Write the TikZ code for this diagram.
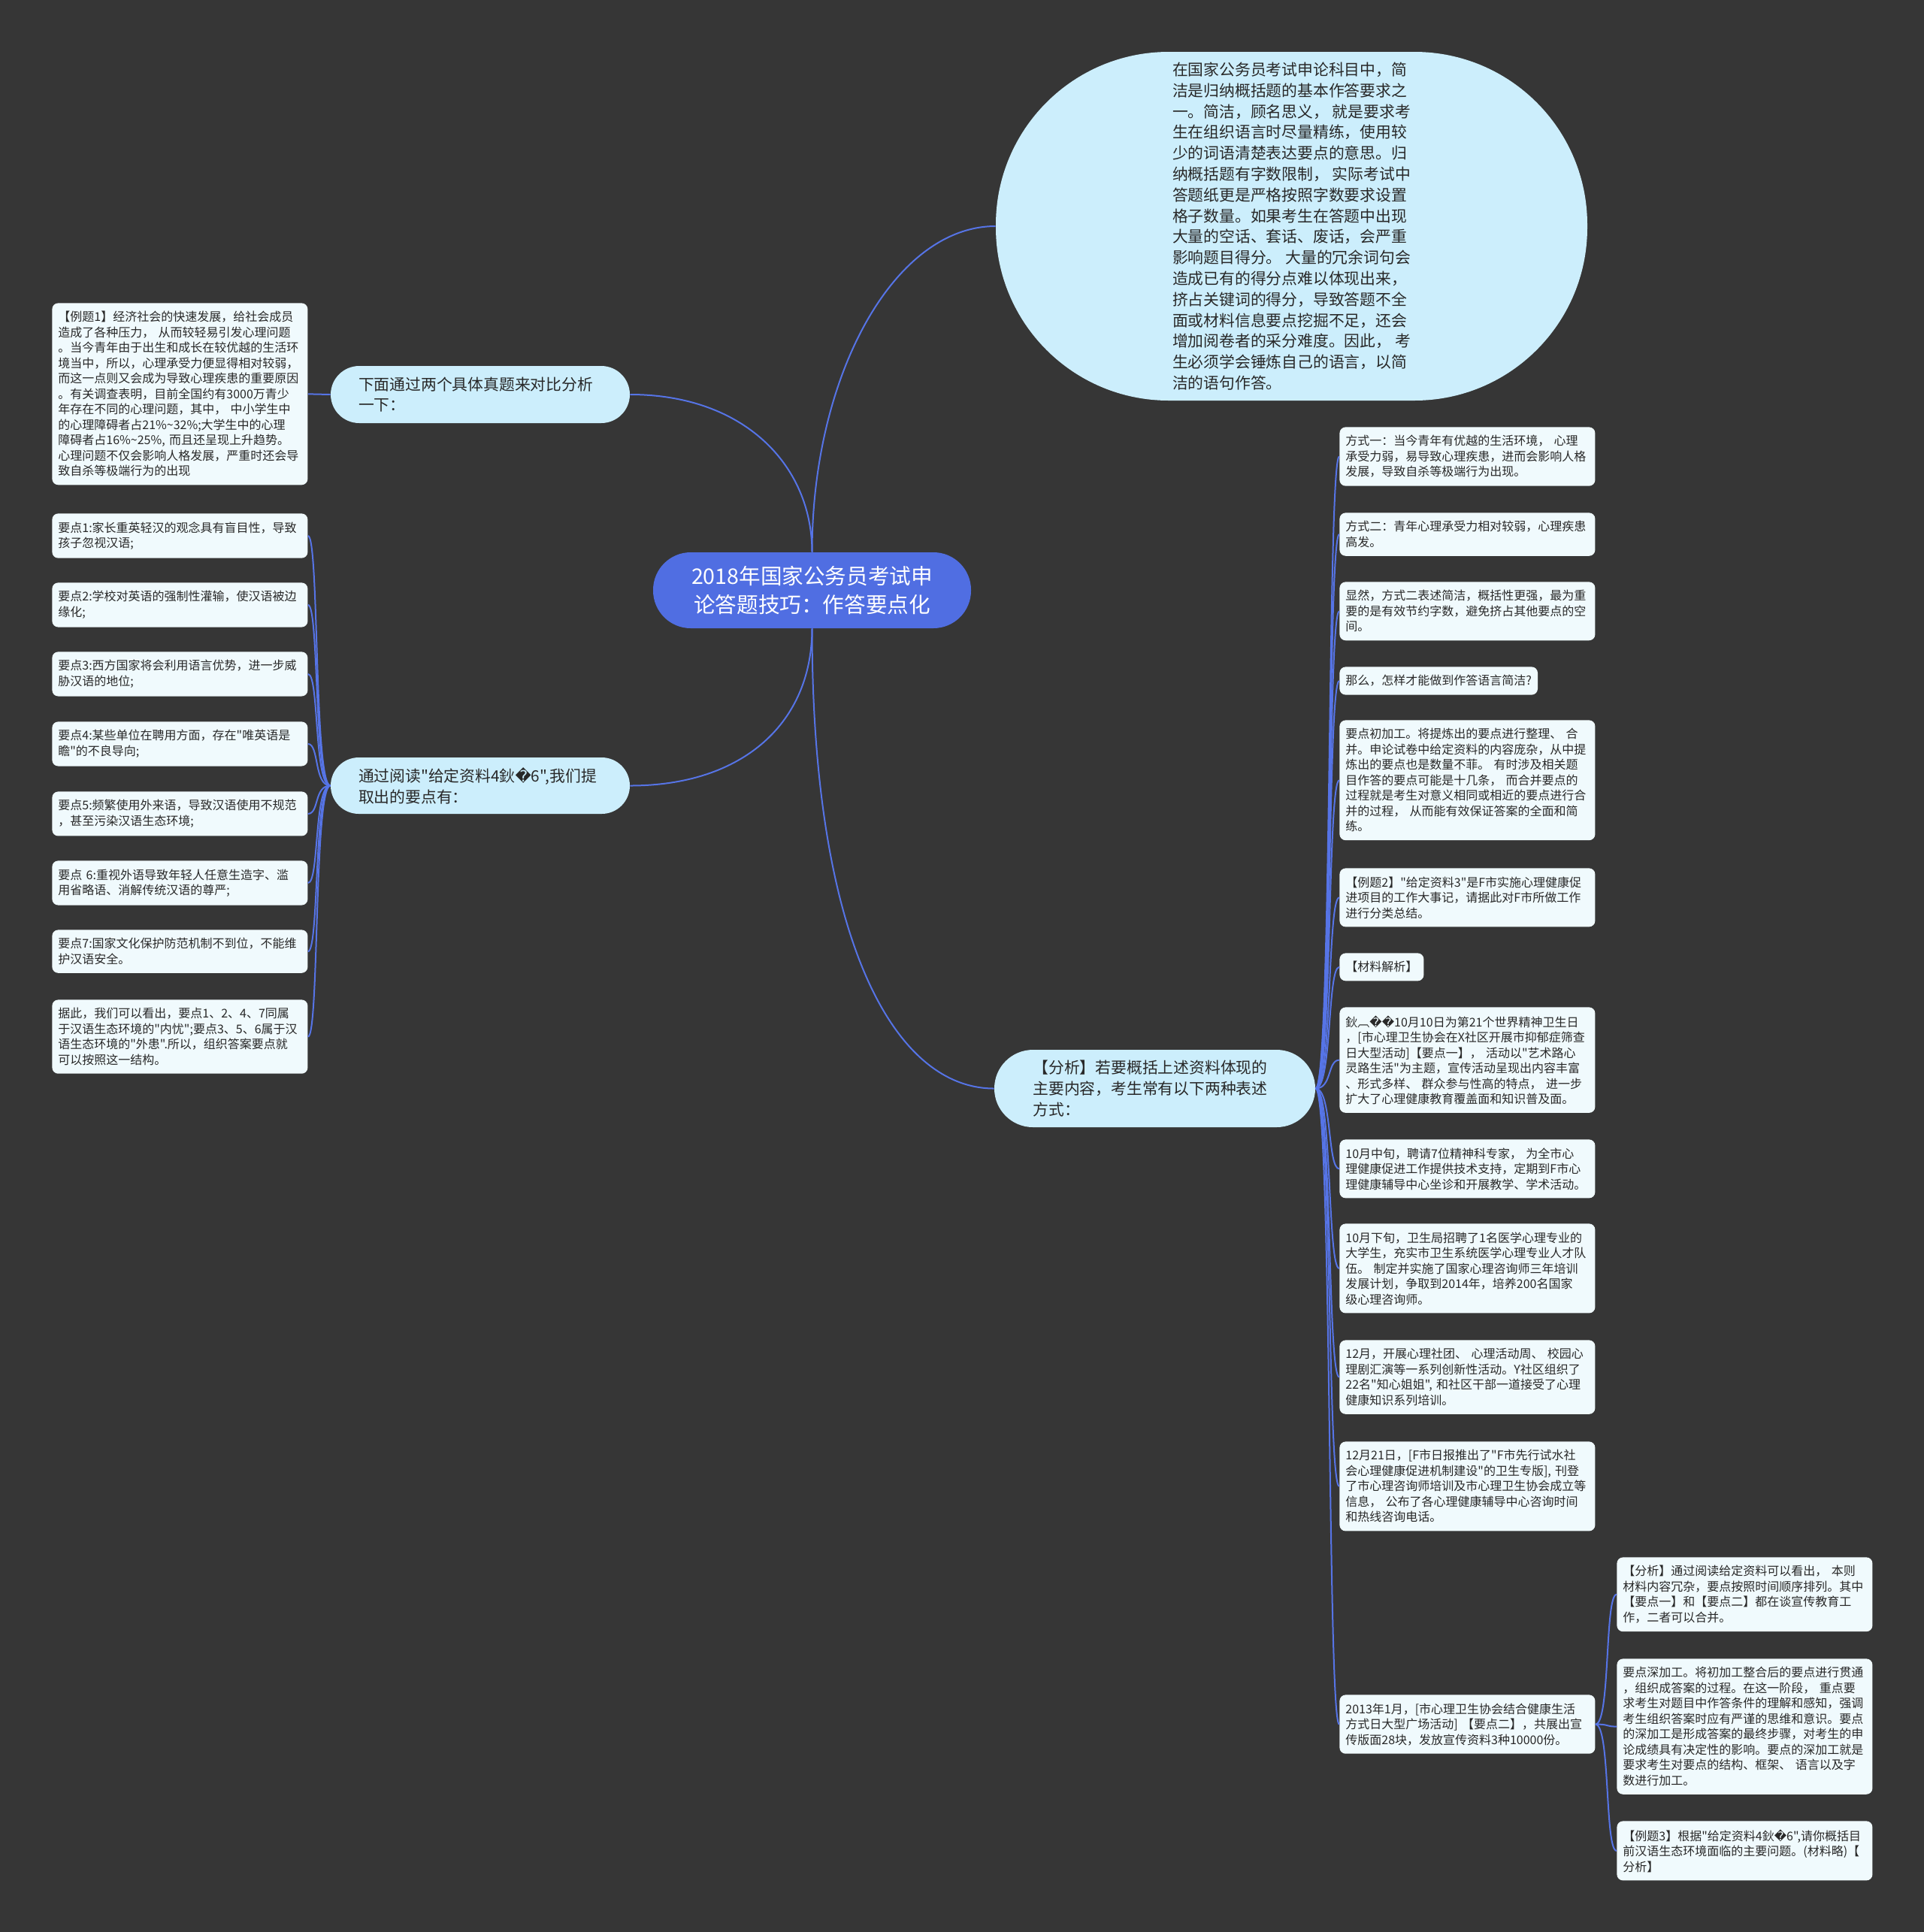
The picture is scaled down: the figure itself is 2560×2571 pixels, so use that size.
\documentclass[tikz,border=0pt]{standalone}
\usepackage{fontspec}
\setmainfont{Noto Sans CJK SC}[Ligatures=TeXOff]
\newfontfamily\symfont{DejaVu Sans}
\usepackage{tikz}

\definecolor{bgdark}{RGB}{54,54,54}
\definecolor{rootblue}{RGB}{80,110,226}
\definecolor{linkblue}{RGB}{86,116,230}
\definecolor{branchfill}{RGB}{204,238,252}
\definecolor{leaffill}{RGB}{240,250,253}
\definecolor{inkdark}{RGB}{40,40,40}
\newcommand{\badchar}{{\symfont\char"FFFD}}

\tikzset{
  topic/.style={rectangle, rounded corners=25pt, fill=rootblue, text=white,
    font=\fontsize{14.3}{18.9}\selectfont, align=center,
    minimum width=211.5pt, minimum height=50.5pt},
  branch/.style={rectangle, fill=branchfill, text=inkdark,
    font=\fontsize{10.4}{13.9}\selectfont, align=left, text width=162pt, inner ysep=2pt},
  bubble/.style={rectangle, rounded corners=115pt, fill=branchfill, text=inkdark,
    font=\fontsize{10.4}{13.9}\selectfont, align=left,
    minimum width=393.5pt, minimum height=232pt},
  leafbase/.style={rectangle, rounded corners=4pt, fill=leaffill, text=inkdark,
    font=\fontsize{8}{10.25}\selectfont, align=left,
    inner xsep=4pt, inner ysep=5.5pt, anchor=north west},
  leaf/.style={leafbase, text width=162pt},
  link/.style={draw=linkblue, line width=1pt}
}

\begin{document}
\begin{tikzpicture}[x=0.5pt,y=-0.5pt]
  % Canvas
  \fill[bgdark] (0,0) rectangle (2560,2571);
  \useasboundingbox (0,0) rectangle (2560,2571);

  % Main topic
  \node[topic] (root) at (1080.5,785.5) {2018年国家公务员考试申\\论答题技巧：作答要点化};

  % First level
  \node[bubble] (intro) at (1718.5,301) {在国家公务员考试申论科目中，简\\洁是归纳概括题的基本作答要求之\\一。简洁，顾名思义， 就是要求考\\生在组织语言时尽量精练，使用较\\少的词语清楚表达要点的意思。归\\纳概括题有字数限制， 实际考试中\\答题纸更是严格按照字数要求设置\\格子数量。如果考生在答题中出现\\大量的空话、套话、废话，会严重\\影响题目得分。 大量的冗余词句会\\造成已有的得分点难以体现出来，\\挤占关键词的得分，导致答题不全\\面或材料信息要点挖掘不足，还会\\增加阅卷者的采分难度。因此， 考\\生必须学会锤炼自己的语言，以简\\洁的语句作答。};
  \node[branch, inner xsep=18.5pt, minimum height=38pt, rounded corners=19pt] (compare) at (639,525) {下面通过两个具体真题来对比分析\\一下：};
  \node[branch, inner xsep=18.5pt, minimum height=37.5pt, rounded corners=18.7pt] (points) at (639,1045.5) {通过阅读"给定资料4鈥\badchar6",我们提\\取出的要点有：};
  \node[branch, inner xsep=25.75pt, minimum height=51.5pt, rounded corners=25.7pt] (analysis) at (1536.5,1448.5) {【分析】若要概括上述资料体现的\\主要内容，考生常有以下两种表述\\方式：};

  % Left side
  \node[leaf] (ex1) at (69,403) {【例题1】经济社会的快速发展，给社会成员\\造成了各种压力， 从而较轻易引发心理问题\\。当今青年由于出生和成长在较优越的生活环\\境当中，所以，心理承受力便显得相对较弱，\\而这一点则又会成为导致心理疾患的重要原因\\。有关调查表明，目前全国约有3000万青少\\年存在不同的心理问题，其中， 中小学生中\\的心理障碍者占21\%\textasciitilde32\%;大学生中的心理\\障碍者占16\%\textasciitilde25\%, 而且还呈现上升趋势。\\心理问题不仅会影响人格发展，严重时还会导\\致自杀等极端行为的出现};
  \node[leaf] (pt1) at (69,683) {要点1:家长重英轻汉的观念具有盲目性，导致\\孩子忽视汉语;};
  \node[leaf] (pt2) at (69,775) {要点2:学校对英语的强制性灌输，使汉语被边\\缘化;};
  \node[leaf] (pt3) at (69,867) {要点3:西方国家将会利用语言优势，进一步威\\胁汉语的地位;};
  \node[leaf] (pt4) at (69,960) {要点4:某些单位在聘用方面，存在"唯英语是\\瞻"的不良导向;};
  \node[leaf] (pt5) at (69,1053) {要点5:频繁使用外来语，导致汉语使用不规范\\，甚至污染汉语生态环境;};
  \node[leaf] (pt6) at (69,1145) {要点 6:重视外语导致年轻人任意生造字、滥\\用省略语、消解传统汉语的尊严;};
  \node[leaf] (pt7) at (69,1237) {要点7:国家文化保护防范机制不到位，不能维\\护汉语安全。};
  \node[leaf] (ptsum) at (69,1330) {据此，我们可以看出，要点1、2、4、7同属\\于汉语生态环境的"内忧";要点3、5、6属于汉\\语生态环境的"外患".所以，组织答案要点就\\可以按照这一结构。};

  % Right side
  \node[leaf] (way1) at (1782,568) {方式一：当今青年有优越的生活环境， 心理\\承受力弱，易导致心理疾患，进而会影响人格\\发展，导致自杀等极端行为出现。};
  \node[leaf] (way2) at (1782,682) {方式二：青年心理承受力相对较弱，心理疾患\\高发。};
  \node[leaf] (plain) at (1782,774) {显然，方式二表述简洁，概括性更强，最为重\\要的是有效节约字数，避免挤占其他要点的空\\间。};
  \node[leafbase] (how) at (1782,887) {那么，怎样才能做到作答语言简洁?};
  \node[leaf] (merge) at (1782,958) {要点初加工。将提炼出的要点进行整理、 合\\并。申论试卷中给定资料的内容庞杂，从中提\\炼出的要点也是数量不菲。 有时涉及相关题\\目作答的要点可能是十几条， 而合并要点的\\过程就是考生对意义相同或相近的要点进行合\\并的过程， 从而能有效保证答案的全面和简\\练。};
  \node[leaf] (ex2) at (1782,1155) {【例题2】"给定资料3"是F市实施心理健康促\\进项目的工作大事记，请据此对F市所做工作\\进行分类总结。};
  \node[leafbase] (mat) at (1782,1268) {【材料解析】};
  \node[leaf] (oct10) at (1782,1340) {鈥︹\badchar\badchar10月10日为第21个世界精神卫生日\\，[市心理卫生协会在X社区开展市抑郁症筛查\\日大型活动]【要点一】， 活动以"艺术路心\\灵路生活"为主题，宣传活动呈现出内容丰富\\、形式多样、 群众参与性高的特点， 进一步\\扩大了心理健康教育覆盖面和知识普及面。};
  \node[leaf] (octmid) at (1782,1516) {10月中旬，聘请7位精神科专家， 为全市心\\理健康促进工作提供技术支持，定期到F市心\\理健康辅导中心坐诊和开展教学、学术活动。};
  \node[leaf] (octlate) at (1782,1628) {10月下旬，卫生局招聘了1名医学心理专业的\\大学生，充实市卫生系统医学心理专业人才队\\伍。 制定并实施了国家心理咨询师三年培训\\发展计划，争取到2014年，培养200名国家\\级心理咨询师。};
  \node[leaf] (dec) at (1782,1783) {12月，开展心理社团、 心理活动周、 校园心\\理剧汇演等一系列创新性活动。Y社区组织了\\22名"知心姐姐", 和社区干部一道接受了心理\\健康知识系列培训。};
  \node[leaf] (dec21) at (1782,1918) {12月21日，[F市日报推出了"F市先行试水社\\会心理健康促进机制建设"的卫生专版], 刊登\\了市心理咨询师培训及市心理卫生协会成立等\\信息， 公布了各心理健康辅导中心咨询时间\\和热线咨询电话。};
  \node[leaf] (jan) at (1782,2255) {2013年1月，[市心理卫生协会结合健康生活\\方式日大型广场活动] 【要点二】，共展出宣\\传版面28块，发放宣传资料3种10000份。};

  % Far right
  \node[leaf] (janana) at (2151,2072) {【分析】通过阅读给定资料可以看出， 本则\\材料内容冗杂，要点按照时间顺序排列。其中\\【要点一】和【要点二】都在谈宣传教育工\\作，二者可以合并。};
  \node[leaf] (deep) at (2151,2207) {要点深加工。将初加工整合后的要点进行贯通\\，组织成答案的过程。在这一阶段， 重点要\\求考生对题目中作答条件的理解和感知，强调\\考生组织答案时应有严谨的思维和意识。要点\\的深加工是形成答案的最终步骤，对考生的申\\论成绩具有决定性的影响。要点的深加工就是\\要求考生对要点的结构、框架、 语言以及字\\数进行加工。};
  \node[leaf] (ex3) at (2151,2423) {【例题3】根据"给定资料4鈥\badchar6",请你概括目\\前汉语生态环境面临的主要问题。(材料略)【\\分析】};

  % Connectors from the main topic
  \draw[link] (root.north) .. controls +(0,-235) and +(-135,0) .. (intro.west);
  \draw[link] (root.north) .. controls +(0,-115) and +(152,0) .. (compare.east);
  \draw[link] (root.south) .. controls +(0,124) and +(152,0) .. (points.east);
  \draw[link] (root.south) .. controls +(0,414) and +(-133,0) .. (analysis.west);

  % Connectors to the leaves
  \draw[link] (compare.west) .. controls +(-15,0) and +(15,0) .. (ex1.east);
  \foreach \n in {pt1,pt2,pt3,pt4,pt5,pt6,pt7,ptsum}
    \draw[link] (points.west) .. controls +(-22,0) and +(15,0) .. (\n.east);
  \foreach \n in {way1,way2,plain,how,merge,ex2,mat,oct10,octmid,octlate,dec,dec21,jan}
    \draw[link] (analysis.east) .. controls +(22,0) and +(-16,0) .. (\n.west);
  \foreach \n in {janana,deep,ex3}
    \draw[link] (jan.east) .. controls +(20,0) and +(-16,0) .. (\n.west);
\end{tikzpicture}
\end{document}
